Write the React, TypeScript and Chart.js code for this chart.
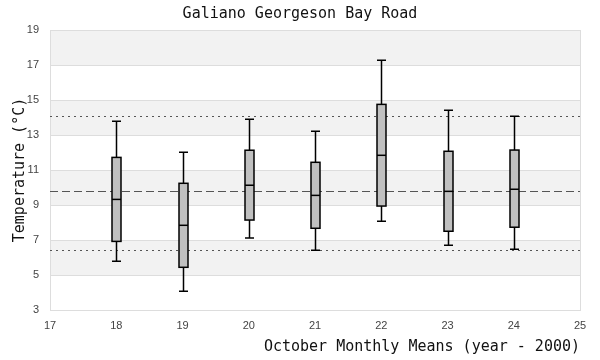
import React, { useEffect, useRef } from "react";
import { Chart, registerables } from "chart.js";

Chart.register(...registerables);

const years = [18, 19, 20, 21, 22, 23, 24];
const whiskerLow = [5.78, 4.07, 7.11, 6.41, 8.07, 6.7, 6.47];
const q1 = [6.92, 5.44, 8.14, 7.67, 8.94, 7.5, 7.73];
const median = [9.32, 7.84, 10.13, 9.55, 11.84, 9.78, 9.9];
const q3 = [11.72, 10.24, 12.13, 11.44, 14.75, 12.07, 12.14];
const whiskerHigh = [13.78, 12.01, 13.9, 13.21, 17.27, 14.41, 14.07];
const meanLine = 9.8;
const upperLine = 14.07;
const lowerLine = 6.41;

const MONO = "'DejaVu Sans Mono', 'Liberation Mono', monospace";
const SANS = "'Liberation Sans', Arial, sans-serif";

const bandsPlugin = {
  id: "bands",
  beforeDatasetsDraw(chart: any) {
    const { ctx, chartArea } = chart;
    const y = chart.scales.y;
    ctx.save();
    ctx.fillStyle = "#f2f2f2";
    for (let v = 19; v > 3; v -= 4) {
      const top = y.getPixelForValue(v);
      const bot = y.getPixelForValue(v - 2);
      ctx.fillRect(chartArea.left, top, chartArea.right - chartArea.left, bot - top);
    }
    ctx.strokeStyle = "#dddddd";
    ctx.lineWidth = 1;
    for (let v = 3; v <= 19; v += 2) {
      const py = Math.round(y.getPixelForValue(v)) + 0.5;
      ctx.beginPath();
      ctx.moveTo(chartArea.left, py);
      ctx.lineTo(chartArea.right, py);
      ctx.stroke();
    }
    ctx.strokeRect(
      Math.round(chartArea.left) + 0.5,
      Math.round(chartArea.top) + 0.5,
      Math.round(chartArea.right - chartArea.left),
      Math.round(chartArea.bottom - chartArea.top)
    );
    ctx.strokeStyle = "#555555";
    const drawRef = (v: number, dash: number[]) => {
      const py = Math.round(y.getPixelForValue(v)) + 0.5;
      ctx.setLineDash(dash);
      ctx.beginPath();
      ctx.moveTo(chartArea.left, py);
      ctx.lineTo(chartArea.right, py);
      ctx.stroke();
    };
    drawRef(upperLine, [2, 4]);
    drawRef(lowerLine, [2, 4]);
    drawRef(meanLine, [8, 4]);
    ctx.setLineDash([]);
    ctx.restore();
  },
};

const boxPlugin = {
  id: "boxes",
  afterDatasetsDraw(chart: any) {
    const { ctx } = chart;
    const x = chart.scales.x;
    const y = chart.scales.y;
    const half = 4.5;
    ctx.save();
    ctx.lineWidth = 1.5;
    ctx.strokeStyle = "#000000";
    years.forEach((yr, i) => {
      const cx = Math.round(x.getPixelForValue(yr)) + 0.5;
      const pLow = y.getPixelForValue(whiskerLow[i]);
      const pQ1 = y.getPixelForValue(q1[i]);
      const pMed = y.getPixelForValue(median[i]);
      const pQ3 = y.getPixelForValue(q3[i]);
      const pHigh = y.getPixelForValue(whiskerHigh[i]);
      ctx.beginPath();
      ctx.moveTo(cx, pHigh);
      ctx.lineTo(cx, pQ3);
      ctx.moveTo(cx, pQ1);
      ctx.lineTo(cx, pLow);
      ctx.moveTo(cx - half, pHigh);
      ctx.lineTo(cx + half, pHigh);
      ctx.moveTo(cx - half, pLow);
      ctx.lineTo(cx + half, pLow);
      ctx.stroke();
      ctx.fillStyle = "#c0c0c0";
      ctx.fillRect(cx - half, pQ3, half * 2, pQ1 - pQ3);
      ctx.strokeRect(cx - half, pQ3, half * 2, pQ1 - pQ3);
      ctx.beginPath();
      ctx.moveTo(cx - half, pMed);
      ctx.lineTo(cx + half, pMed);
      ctx.stroke();
    });
    ctx.restore();
  },
};

export default function App() {
  const ref = useRef<HTMLCanvasElement>(null);
  useEffect(() => {
    if (!ref.current) return;
    const chart = new Chart(ref.current, {
      type: "scatter",
      data: {
        datasets: [
          {
            data: years.map((yr, i) => ({ x: yr, y: median[i] })),
            pointRadius: 0,
            showLine: false,
          },
        ],
      },
      options: {
        animation: false,
        responsive: false,
        layout: { padding: 0 },
        plugins: {
          legend: { display: false },
          tooltip: { enabled: false },
          title: {
            display: true,
            text: "Galiano Georgeson Bay Road",
            color: "#111",
            font: { family: MONO, size: 15, weight: "normal", lineHeight: 1.2 },
            padding: { top: 5, bottom: 7 },
          },
        },
        scales: {
          x: {
            type: "linear",
            min: 17,
            max: 25,
            ticks: { stepSize: 1, color: "#444", font: { family: SANS, size: 11 }, padding: 9 },
            grid: { display: false, drawTicks: false },
            border: { display: false },
            title: {
              display: true,
              text: "October Monthly Means (year - 2000)",
              align: "end",
              color: "#111",
              font: { family: MONO, size: 15 },
              padding: { top: 4, bottom: 4 },
            },
            afterFit(scale: any) {
              scale.height = 50;
            },
          },
          y: {
            type: "linear",
            min: 3,
            max: 19,
            ticks: { stepSize: 2, color: "#444", font: { family: SANS, size: 11 }, padding: 11 },
            grid: { display: false, drawTicks: false },
            border: { display: false },
            title: {
              display: true,
              text: "Temperature (°C)",
              color: "#111",
              font: { family: MONO, size: 15 },
              padding: { top: 11, bottom: 4 },
            },
            afterFit(scale: any) {
              scale.width = 50;
            },
          },
          yRight: {
            type: "linear",
            position: "right",
            min: 3,
            max: 19,
            ticks: { display: false },
            grid: { display: false, drawTicks: false },
            border: { display: false },
            afterFit(scale: any) {
              scale.width = 20;
            },
          },
        },
      },
      plugins: [bandsPlugin, boxPlugin],
    } as any);
    return () => chart.destroy();
  }, []);
  return (
    <div style={{ position: "fixed", left: 0, top: 0, width: 600, height: 360, background: "#fff" }}>
      <canvas ref={ref} width={600} height={360} style={{ width: 600, height: 360 }} />
    </div>
  );
}
